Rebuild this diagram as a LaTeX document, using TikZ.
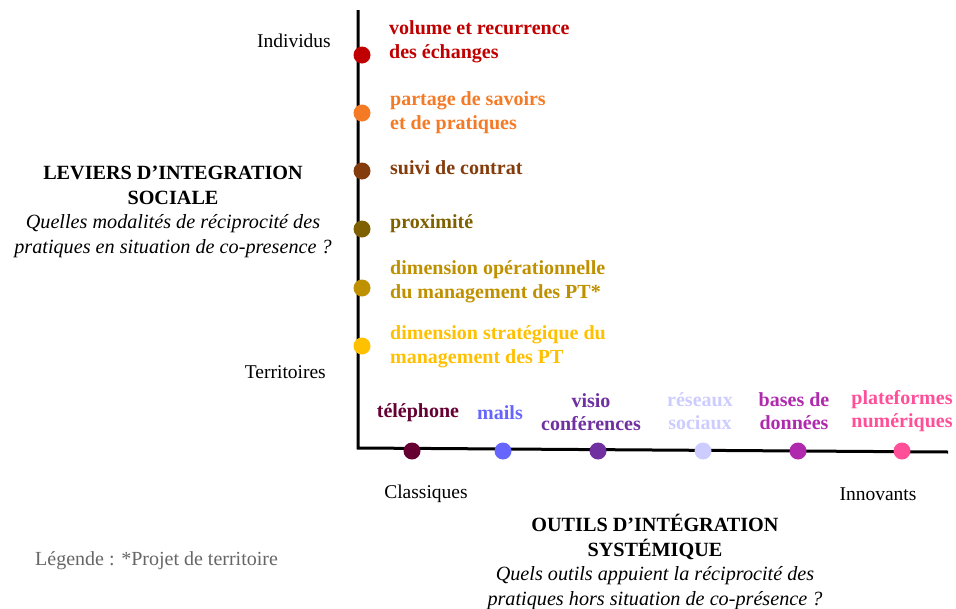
\documentclass[tikz,border=0pt]{standalone}
\usepackage{fontspec}
\setmainfont{Liberation Serif}
\definecolor{cA}{HTML}{C00000}
\definecolor{cB}{HTML}{F47A25}
\definecolor{cC}{HTML}{843C0C}
\definecolor{cD}{HTML}{7F6000}
\definecolor{cE}{HTML}{BF9000}
\definecolor{cF}{HTML}{FFC000}
\definecolor{hA}{HTML}{660033}
\definecolor{hB}{HTML}{6666FF}
\definecolor{hC}{HTML}{7030A0}
\definecolor{hD}{HTML}{CCCCFF}
\definecolor{hE}{HTML}{B02AAE}
\definecolor{hF}{HTML}{FF4F99}
\begin{document}
\begin{tikzpicture}[x=1pt,y=-1pt,
  dot/.style={circle,inner sep=0pt,minimum size=17pt},
  vlab/.style={anchor=west,align=left,font=\fontsize{20}{24}\selectfont\bfseries,inner sep=0pt},
  hlab/.style={align=center,font=\fontsize{20}{23.5}\selectfont\bfseries,inner sep=0pt},
  plain/.style={font=\fontsize{19.5}{24}\selectfont,inner sep=0pt},
  title/.style={align=center,font=\fontsize{20.2}{24.5}\selectfont,inner sep=0pt}]
\useasboundingbox (0,0) rectangle (956,608);
\coordinate (top) at (358,10);
\coordinate (corner) at (358,448);
\coordinate (right) at (948,452);
\draw[line width=3pt] (top) -- (corner) -- (right);
% vertical dots
\node[dot,fill=cA] (v1) at (362,55) {};
\node[dot,fill=cB] (v2) at (362,113) {};
\node[dot,fill=cC] (v3) at (362,171) {};
\node[dot,fill=cD] (v4) at (362,229) {};
\node[dot,fill=cE] (v5) at (362,288) {};
\node[dot,fill=cF] (v6) at (362,346) {};
\node[vlab,text=cA] (l1) at (389,42) {volume et recurrence\\des échanges};
\node[vlab,text=cB] (l2) at (390,113) {partage de savoirs\\et de pratiques};
\node[vlab,text=cC] (l3) at (390,168) {suivi de contrat};
\node[vlab,text=cD] (l4) at (390,224) {proximité};
\node[vlab,text=cE] (l5) at (390,282) {dimension opérationnelle\\du management des PT*};
\node[vlab,text=cF] (l6) at (390,347) {dimension stratégique du\\management des PT};
% horizontal dots
\node[dot,fill=hA] (h1) at (412,451) {};
\node[dot,fill=hB] (h2) at (503,451) {};
\node[dot,fill=hC] (h3) at (598,451) {};
\node[dot,fill=hD] (h4) at (703,451) {};
\node[dot,fill=hE] (h5) at (798,451) {};
\node[dot,fill=hF] (h6) at (902,451) {};
\node[hlab,text=hA] (m1) at (418,413) {téléphone};
\node[hlab,text=hB] (m2) at (500,413) {mails};
\node[hlab,text=hC] (m3) at (591,412) {visio\\conférences};
\node[hlab,text=hD] (m4) at (700,411) {réseaux\\sociaux};
\node[hlab,text=hE] (m5) at (794,411) {bases de\\données};
\node[hlab,text=hF] (m6) at (902,411) {plateformes\\numériques};
% axis ends
\node[plain,anchor=east] (ind) at (331,41) {Individus};
\node[plain,anchor=east] (ter) at (326,372) {Territoires};
\node[plain] (cla) at (426,494) {Classiques};
\node[plain] (inn) at (878,494) {Innovants};
% titles
\node[title] (t1) at (173,212) {\textbf{LEVIERS D’INTEGRATION}\\\textbf{SOCIALE}\\\textit{Quelles modalités de réciprocité des}\\\textit{pratiques en situation de co-presence ?}};
\node[title] (t2) at (655,562) {\textbf{OUTILS D’INTÉGRATION}\\\textbf{SYSTÉMIQUE}\\\textit{Quels outils appuient la réciprocité des}\\\textit{pratiques hors situation de co-présence ?}};
\node[plain,anchor=west,text=black!60,font=\fontsize{20}{24}\selectfont] (leg) at (35,561) {Légende : *Projet de territoire};
\end{tikzpicture}
\end{document}
